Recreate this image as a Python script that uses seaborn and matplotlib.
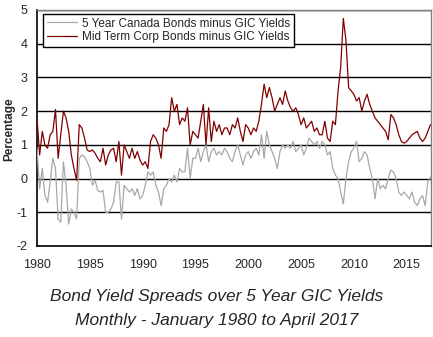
import numpy as np
import pandas as pd
import matplotlib
matplotlib.use("Agg")
import matplotlib.pyplot as plt
from matplotlib.ticker import MultipleLocator
import seaborn as sns

# Quarterly readings, Q1 1980 .. Q2 2017
canada_minus_gic = [
    0.9, -0.3, 0.3, -0.5,
    -0.7, -0.1, 0.6, 0.3,
    -1.2, -1.3, 0.5, -0.2,
    -1.35, -0.9, -1.0, -1.2,
    0.6, 0.7, 0.65, 0.5,
    0.3, -0.2, -0.05, -0.35,
    -0.4, -0.35, -1.0, -1.0,
    -0.9, -0.7, -0.1, -0.1,
    -1.2, -0.2, -0.3, -0.4,
    -0.3, -0.5, -0.3, -0.6,
    -0.5, -0.2, 0.2, 0.1,
    0.2, -0.2, -0.4, -0.8,
    -0.3, -0.2, 0.0, -0.1,
    0.1, -0.1, 0.3, 0.2,
    0.2, 0.9, 0.0, 0.6,
    0.6, 0.9, 0.5, 0.8,
    1.0, 0.5, 0.8, 0.9,
    0.7, 0.8, 0.7, 0.9,
    0.8, 0.6, 0.5, 0.8,
    1.0, 0.7, 0.4, 0.7,
    0.8, 0.6, 0.8, 0.9,
    0.7, 1.3, 0.6, 1.4,
    1.0, 0.8, 0.6, 0.3,
    0.8, 1.0, 0.9, 1.0,
    0.9, 1.1, 0.8, 0.9,
    1.0, 0.7, 0.9, 1.2,
    1.1, 1.0, 1.1, 0.9,
    1.1, 1.0, 0.7, 0.8,
    0.3, 0.1, 0.0, -0.4,
    -0.75, 0.0, 0.5, 0.8,
    0.9, 1.1, 0.5, 0.6,
    0.8, 0.7, 0.3, 0.0,
    -0.6, 0.0, -0.3, -0.2,
    -0.3, 0.0, 0.25, 0.2,
    0.0, -0.4, -0.5, -0.4,
    -0.5, -0.6, -0.4, -0.7,
    -0.8, -0.6, -0.5, -0.8,
    -0.1, 0.05,
]

corp_minus_gic = [
    1.8, 0.7, 1.4, 1.0,
    0.9, 1.3, 1.4, 2.05,
    0.6, 1.3, 2.0, 1.8,
    1.4, 0.7, 0.3, -0.05,
    1.6, 1.5, 1.2, 0.85,
    0.8, 0.85, 0.75, 0.6,
    0.5, 0.9, 0.4, 0.7,
    0.85, 0.9, 0.5, 1.1,
    0.1, 1.0, 0.8, 0.6,
    0.9, 0.6, 0.8, 0.55,
    0.4, 0.5, 0.3, 1.1,
    1.3, 1.2, 1.0, 0.6,
    1.5, 1.4, 1.6, 2.4,
    2.0, 2.2, 1.6, 1.8,
    1.7, 2.1, 1.0, 1.4,
    1.3, 1.2, 1.7, 2.2,
    1.0, 2.1, 1.1, 1.7,
    1.4, 1.6, 1.3, 1.5,
    1.5, 1.3, 1.6, 1.5,
    1.8, 1.4, 1.1, 1.6,
    1.5, 1.3, 1.5, 1.4,
    1.7, 2.2, 2.8, 2.4,
    2.7, 2.4, 2.0, 2.2,
    2.4, 2.2, 2.6, 2.3,
    2.1, 2.0, 2.1, 1.9,
    1.6, 1.8, 1.5, 1.6,
    1.7, 1.4, 1.5, 1.3,
    1.3, 1.7, 1.2, 1.1,
    1.7, 1.6, 2.6, 3.3,
    4.75, 4.1, 2.7, 2.6,
    2.5, 2.3, 2.4, 2.0,
    2.3, 2.5, 2.2, 2.0,
    1.8, 1.7, 1.6, 1.5,
    1.4, 1.15, 1.9, 1.8,
    1.6, 1.3, 1.1, 1.05,
    1.1, 1.2, 1.3, 1.35,
    1.4, 1.2, 1.1, 1.2,
    1.4, 1.6,
]

series_names = ["5 Year Canada Bonds minus GIC Yields",
                "Mid Term Corp Bonds minus GIC Yields"]
start_year = 1980
y_ticks = [-2, -1, 0, 1, 2, 3, 4, 5]
x_tick_labels = ["1980", "1985", "1990", "1995", "2000", "2005", "2010", "2015"]
title_lines = ["Bond Yield Spreads over 5 Year GIC Yields",
               "Monthly - January 1980 to April 2017"]

n = len(corp_minus_gic)
years = start_year + np.arange(n) / 4.0
df = pd.DataFrame({
    "Year": np.concatenate([years, years]),
    "Spread": canada_minus_gic + corp_minus_gic,
    "Series": [series_names[0]] * n + [series_names[1]] * n,
})

sns.set_style("white")
plt.rcParams["font.family"] = ["Liberation Sans", "DejaVu Sans"]

fig = plt.figure(figsize=(4.33, 3.37), dpi=100)
ax = fig.add_axes([37 / 433, 91 / 337, 394 / 433, 236 / 337])

sns.lineplot(data=df, x="Year", y="Spread", hue="Series",
             hue_order=series_names, palette=["#a8a8a8", "#800000"],
             linewidth=0.9, ax=ax, zorder=3)

ax.set_xlim(1980, 2017.3)
ax.set_ylim(-2, 5)
ax.set_yticks(y_ticks)
ax.set_yticklabels([str(t) for t in y_ticks], fontsize=9)
ax.set_xticks([int(s) for s in x_tick_labels])
ax.set_xticklabels(x_tick_labels, fontsize=9)
ax.xaxis.set_minor_locator(MultipleLocator(1))
ax.tick_params(axis="x", which="both", direction="inout", length=7,
               width=1, color="black", pad=6)
ax.tick_params(axis="y", direction="out", length=4, width=1,
               color="black", pad=3)
ax.yaxis.grid(True, color="black", linewidth=1.0)
ax.xaxis.grid(False)
ax.set_axisbelow(True)

for side in ["left", "bottom"]:
    ax.spines[side].set_color("black")
    ax.spines[side].set_linewidth(1.2)
for side in ["top", "right"]:
    ax.spines[side].set_color("#808080")
    ax.spines[side].set_linewidth(1.0)

ax.set_xlabel("")
ax.set_ylabel("Percentage", fontsize=8.5, fontweight="bold")
ax.yaxis.set_label_coords(-22 / 394, 0.495)

leg = ax.legend(loc="upper left", bbox_to_anchor=(6 / 394, 1 - 4 / 236),
                frameon=True, fancybox=False, edgecolor="black",
                fontsize=8.5, handlelength=2.6, handletextpad=0.4,
                borderpad=0.3, labelspacing=0.15, borderaxespad=0)
leg.get_frame().set_linewidth(1.0)
leg.get_frame().set_facecolor("white")
leg.get_frame().set_alpha(1)

fig.text(0.5, 1 - 297 / 337, title_lines[0], ha="center", va="center",
         fontsize=12.5, style="italic")
fig.text(0.5, 1 - 320 / 337, title_lines[1], ha="center", va="center",
         fontsize=12.5, style="italic")

fig.savefig("out.png", dpi=100)
